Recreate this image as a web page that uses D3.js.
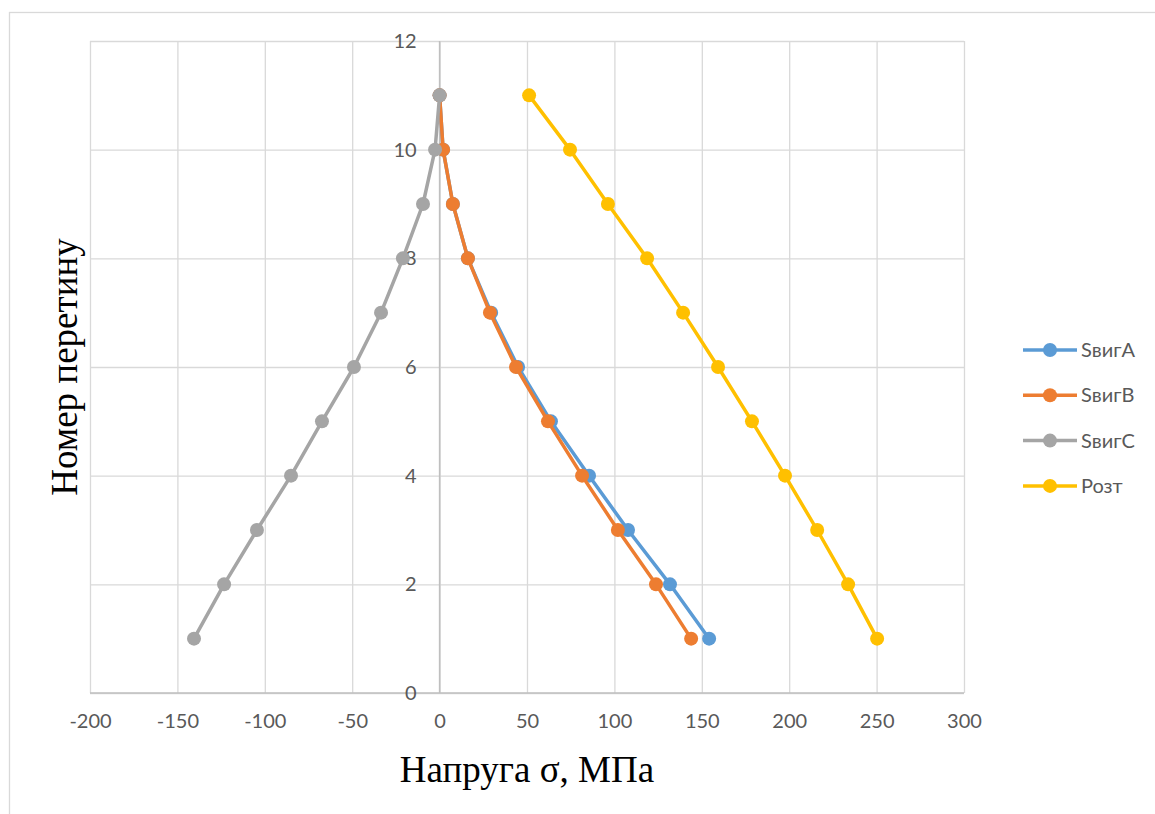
<!DOCTYPE html>
<html>
<head>
<meta charset="utf-8">
<script src="https://cdn.jsdelivr.net/npm/d3@7/dist/d3.min.js"></script>
<style>
  html, body { margin: 0; padding: 0; background: #fff; }
  svg { display: block; }
</style>
</head>
<body>
<script>
// Cross-section numbers (vertical axis)
const sections = [1, 2, 3, 4, 5, 6, 7, 8, 9, 10, 11];

// Stress values, MPa, per section
const bendA = [154.2, 131.8, 107.8, 85.5, 63.7, 44.9, 29.5, 16.2, 7.6, 2.0, 0];
const bendB = [143.9, 123.8, 102.0, 81.5, 62.0, 43.7, 28.8, 16.2, 7.6, 2.0, 0];
const bendC = [-140.5, -123.3, -104.5, -85.0, -67.3, -49.0, -33.5, -21.0, -9.5, -2.6, 0];
const tension = [250.3, 233.7, 216.0, 197.6, 178.7, 159.3, 139.3, 118.7, 96.3, 74.6, 51.2];

const seriesNames = ["SвигA", "SвигB", "SвигC", "Розт"];
const seriesColors = ["#5b9bd5", "#ed7d31", "#a5a5a5", "#ffc000"];

const xTicks = [-200, -150, -100, -50, 0, 50, 100, 150, 200, 250, 300];
const yTicks = [0, 2, 4, 6, 8, 10, 12];

const xTitle = "Напруга σ, МПа";
const yTitle = "Номер перетину";

const W = 1155, H = 814;
const plot = { left: 90, top: 41, right: 964, bottom: 693 };

const svg = d3.select("body").append("svg")
  .attr("width", W).attr("height", H);

// chart frame
svg.append("rect")
  .attr("x", 9.5).attr("y", 12.5)
  .attr("width", W + 20).attr("height", H + 20)
  .attr("fill", "#fff").attr("stroke", "#d9d9d9").attr("stroke-width", 1.3);

const x = d3.scaleLinear().domain([-200, 300]).range([plot.left, plot.right]);
const y = d3.scaleLinear().domain([0, 12]).range([plot.bottom, plot.top]);

const gridColor = "#d9d9d9";
const labelColor = "#595959";
const labelFont = "Lato, 'Open Sans', sans-serif";
const labelSize = 20;
const plainNum = d => String(d);

// vertical gridlines
svg.append("g")
  .attr("transform", `translate(0,${plot.bottom})`)
  .call(d3.axisBottom(x).tickValues(xTicks).tickSize(-(plot.bottom - plot.top)).tickFormat(""))
  .call(g => g.select(".domain").remove())
  .call(g => g.selectAll("line").attr("stroke", gridColor).attr("stroke-width", 1.3));

// horizontal gridlines
svg.append("g")
  .attr("transform", `translate(${plot.left},0)`)
  .call(d3.axisLeft(y).tickValues(yTicks).tickSize(-(plot.right - plot.left)).tickFormat(""))
  .call(g => g.select(".domain").remove())
  .call(g => g.selectAll("line").attr("stroke", gridColor).attr("stroke-width", 1.3));

// vertical axis line at x = 0
svg.append("line")
  .attr("x1", x(0)).attr("x2", x(0))
  .attr("y1", plot.top).attr("y2", plot.bottom)
  .attr("stroke", "#bfbfbf").attr("stroke-width", 1.5);
// horizontal axis line at y = 0
svg.append("line")
  .attr("x1", plot.left).attr("x2", plot.right)
  .attr("y1", y(0)).attr("y2", y(0))
  .attr("stroke", "#bfbfbf").attr("stroke-width", 1.5);

// x tick labels
const xAxis = svg.append("g")
  .attr("transform", `translate(0,${plot.bottom + 21})`)
  .call(d3.axisBottom(x).tickValues(xTicks).tickSize(0).tickPadding(0).tickFormat(plainNum))
  .call(g => g.select(".domain").remove());
xAxis.selectAll("text")
  .attr("font-family", labelFont).attr("font-size", labelSize)
  .attr("fill", labelColor).attr("dy", "0.71em");

// y tick labels beside the x = 0 axis
const yAxis = svg.append("g")
  .attr("transform", `translate(${x(0) - 23},0)`)
  .call(d3.axisLeft(y).tickValues(yTicks).tickSize(0).tickPadding(0).tickFormat(plainNum))
  .call(g => g.select(".domain").remove());
yAxis.selectAll("text")
  .attr("font-family", labelFont).attr("font-size", labelSize)
  .attr("fill", labelColor);

// series
const allSeries = [bendA, bendB, bendC, tension];
const line = d3.line().x(d => x(d[0])).y(d => y(d[1]));

allSeries.forEach((vals, i) => {
  const pts = vals.map((v, j) => [v, sections[j]]);
  const g = svg.append("g").attr("class", "series");
  g.append("path")
    .datum(pts)
    .attr("d", line)
    .attr("fill", "none")
    .attr("stroke", seriesColors[i])
    .attr("stroke-width", 3.5)
    .attr("stroke-linejoin", "round");
  g.selectAll("circle")
    .data(pts)
    .join("circle")
    .attr("cx", d => x(d[0]))
    .attr("cy", d => y(d[1]))
    .attr("r", 7)
    .attr("fill", seriesColors[i]);
});

// axis titles
svg.append("text")
  .attr("x", 527).attr("y", 782)
  .attr("text-anchor", "middle")
  .attr("font-family", "'Liberation Serif', 'Times New Roman', serif")
  .attr("font-size", 37)
  .attr("fill", "#000")
  .text(xTitle);

svg.append("text")
  .attr("transform", `translate(77,${(plot.top + plot.bottom) / 2}) rotate(-90)`)
  .attr("text-anchor", "middle")
  .attr("font-family", "'Liberation Serif', 'Times New Roman', serif")
  .attr("font-size", 37)
  .attr("fill", "#000")
  .text(yTitle);

// legend
const legend = svg.append("g").attr("transform", "translate(1023,350)");
seriesNames.forEach((name, i) => {
  const ly = i * 45.3;
  legend.append("line")
    .attr("x1", 0).attr("x2", 54).attr("y1", ly).attr("y2", ly)
    .attr("stroke", seriesColors[i]).attr("stroke-width", 3.5);
  legend.append("circle")
    .attr("cx", 27).attr("cy", ly).attr("r", 7)
    .attr("fill", seriesColors[i]);
  legend.append("text")
    .attr("x", 58).attr("y", ly).attr("dy", "0.35em")
    .attr("font-family", labelFont).attr("font-size", labelSize)
    .attr("fill", labelColor)
    .text(name);
});
</script>
</body>
</html>
